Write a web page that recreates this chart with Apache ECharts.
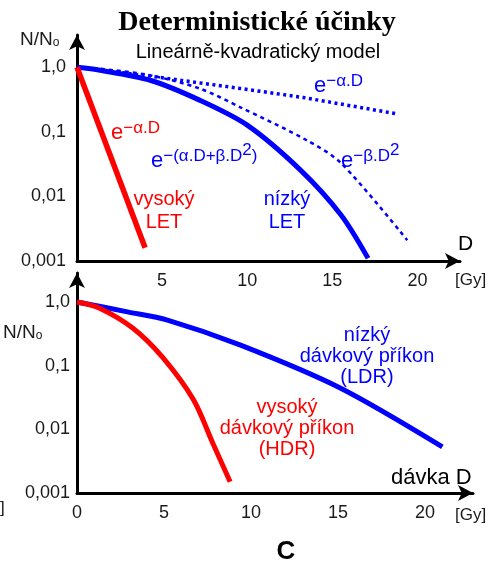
<!DOCTYPE html>
<html>
<head>
<meta charset="utf-8">
<script src="https://cdn.jsdelivr.net/npm/echarts@6/dist/echarts.min.js"></script>
<style>html,body{margin:0;padding:0;background:#fff;}#c{width:493px;height:562px;}</style>
</head>
<body>
<div id="c"></div>
<script>
// ---- data (dose in Gy, surviving fraction N/N0) ----
const yTickLabels = ['0,001', '0,01', '0,1', '1,0'];
const xTickLabelsTop = ['', '5', '10', '15', '20'];
const xTickLabelsBottom = ['0', '5', '10', '15', '20'];

// top chart: Lineárně-kvadratický model
const highLET = [[0, 1.0], [4.0, 0.0016]];
const lowLET = [[0, 1.0], [1.35, 0.9], [4.3, 0.63], [7.2, 0.31], [10.0, 0.127], [13.1, 0.026], [15.5, 0.0052], [17.1, 0.0011]];
const alphaOnly = [[0, 1.0], [4.3, 0.73], [9.6, 0.47], [13.3, 0.34], [18.8, 0.19]];
const betaOnly = [[0, 1.0], [1.35, 0.95], [4.3, 0.75], [7.2, 0.47], [9.6, 0.24], [13.5, 0.074], [15.5, 0.033], [19.4, 0.0021]];

// bottom chart: dose rate
const LDR = [[0, 1.0], [2.9, 0.70], [5.2, 0.52], [9.4, 0.21], [15.1, 0.045], [21.0, 0.0053]];
const HDR = [[0, 1.0], [1.3, 0.80], [3.2, 0.39], [4.9, 0.137], [6.7, 0.029], [7.8, 0.0061], [8.8, 0.0015]];

const RED = '#ff0000', BLUE = '#0000ff', INK = '#1a1a1a';
const SANS = '"Liberation Sans", Arial, sans-serif';

function yFmt(v) {
  const e = Math.log10(v);
  const r = Math.round(e);
  if (Math.abs(e - r) > 1e-6) return '';
  return yTickLabels[r + 3] || '';
}
function xFmt(labels) {
  return function (v) {
    const i = v / 5;
    if (Math.abs(i - Math.round(i)) > 1e-6) return '';
    return labels[Math.round(i)] || '';
  };
}
const axisLine = { show: true, symbol: ['none', 'arrow'], symbolSize: [12, 15], lineStyle: { color: '#000', width: 3 } };

function xAxis(gridIndex, max, labels) {
  return {
    type: 'value', gridIndex, min: 0, max, interval: 5,
    axisLine, axisTick: { show: false }, splitLine: { show: false },
    axisLabel: { formatter: xFmt(labels), fontSize: 18, fontFamily: SANS, color: INK, margin: 11, showMaxLabel: false }
  };
}
function yAxis(gridIndex, max, margin) {
  return {
    type: 'log', logBase: 10, gridIndex, min: 0.001, max,
    axisLine, axisTick: { show: false }, splitLine: { show: false },
    axisLabel: { formatter: yFmt, fontSize: 18, fontFamily: SANS, color: INK, margin, showMaxLabel: false }
  };
}
function line(data, xi, color, width, type, smooth) {
  return {
    type: 'line', xAxisIndex: xi, yAxisIndex: xi, data, showSymbol: false, symbol: 'none',
    smooth: smooth, silent: true,
    lineStyle: { color, width, type: type || 'solid', cap: 'butt' }
  };
}
function richText(x, y, text, color) {
  return {
    type: 'text', x, y, silent: true,
    style: {
      text, fill: color, fontFamily: SANS,
      rich: {
        b: { fontSize: 22, fontFamily: SANS, fill: color, lineHeight: 30, verticalAlign: 'bottom' },
        s: { fontSize: 17, fontFamily: SANS, fill: color, lineHeight: 17, verticalAlign: 'top', padding: [6, 0, 0, 0] },
        ss: { fontSize: 17, fontFamily: SANS, fill: color, lineHeight: 17, verticalAlign: 'top', padding: [0, 0, 0, 0] }
      }
    }
  };
}
function plain(x, y, text, color, font, align, lh) {
  return {
    type: 'text', x, y, silent: true,
    style: { text, fill: color, font, textAlign: align || 'left', textVerticalAlign: 'top', lineHeight: lh }
  };
}
function nn0(x, y) {
  return {
    type: 'text', x, y, silent: true,
    style: { text: '{n|N/N}{o|o}', rich: {
      n: { fontSize: 19, fontFamily: SANS, fill: INK, lineHeight: 22, verticalAlign: 'bottom' },
      o: { fontSize: 12, fontFamily: SANS, fill: INK, lineHeight: 12, verticalAlign: 'bottom' } } }
  };
}

const chart = echarts.init(document.getElementById('c'), null, { renderer: 'canvas' });
chart.setOption({
  backgroundColor: '#fff',
  animation: false,
  grid: [
    { left: 77, top: 35, width: 383, height: 226 },
    { left: 77, top: 273, width: 396, height: 220 }
  ],
  xAxis: [xAxis(0, 22.5, xTickLabelsTop), xAxis(1, 22.76, xTickLabelsBottom)],
  yAxis: [yAxis(0, Math.pow(10, 0.5), 11), yAxis(1, Math.pow(10, 0.455), 7)],
  series: [
    line(alphaOnly, 0, BLUE, 3.5, [3, 3.5], false),
    line(betaOnly, 0, BLUE, 2.5, [4, 4], 0.3),
    line(lowLET, 0, BLUE, 5, 'solid', 0.3),
    line(highLET, 0, RED, 5.5, 'solid', false),
    line(LDR, 1, BLUE, 5, 'solid', 0.3),
    line(HDR, 1, RED, 5, 'solid', 0.3)
  ],
  graphic: [
    plain(257, 9, 'Deterministické účinky', '#000', 'bold 28px "Liberation Serif", "Times New Roman", serif', 'center'),
    plain(258, 42, 'Lineárně-kvadratický model', '#000', '20px ' + SANS, 'center'),
    nn0(20, 27),
    nn0(3, 320),
    // top annotations
    richText(111, 114, '{b|e}{s|−α.D}', RED),
    richText(151, 142, '{b|e}{s|−(α.D+β.D}{ss|2}{s|)}', BLUE),
    richText(314, 67, '{b|e}{s|−α.D}', BLUE),
    richText(341, 142, '{b|e}{s|−β.D}{ss|2}', BLUE),
    plain(164, 188, 'vysoký\nLET', RED, '20px ' + SANS, 'center', 23),
    plain(287, 188, 'nízký\nLET', BLUE, '20px ' + SANS, 'center', 23),
    plain(458, 234, 'D', '#000', '21px ' + SANS),
    plain(455, 272, '[Gy]', INK, '17px ' + SANS),
    // bottom annotations
    plain(367, 325, 'nízký\ndávkový příkon\n(LDR)', BLUE, '20px ' + SANS, 'center', 21),
    plain(287, 397, 'vysoký\ndávkový příkon\n(HDR)', RED, '20px ' + SANS, 'center', 21),
    plain(391, 467, 'dávka D', '#000', '22px ' + SANS),
    plain(455, 507, '[Gy]', INK, '17px ' + SANS),
    plain(286, 539, 'C', '#000', 'bold 26px ' + SANS, 'center'),
    plain(0, 500, ']', INK, '17px ' + SANS)
  ]
});
</script>
</body>
</html>
